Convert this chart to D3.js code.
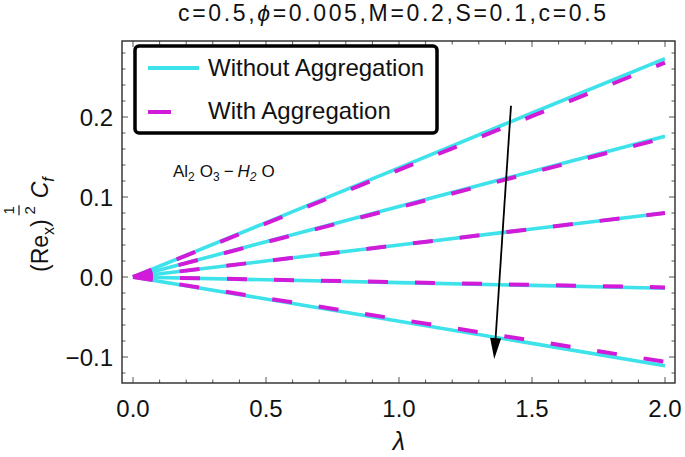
<!DOCTYPE html>
<html>
<head>
<meta charset="utf-8">
<script src="https://cdn.jsdelivr.net/npm/d3@7"></script>
<style>
  body { margin: 0; background: #fff; }
  svg text { font-family: "Liberation Sans", Arial, sans-serif; fill: #111; }
</style>
</head>
<body>
<svg id="CHART" width="685" height="457"></svg>
<script>
// lambda values and skin friction for the five curves (top to bottom)
var LAMBDA = [0, 0.5, 1.0, 1.5, 2.0];
var WITHOUT_AGG = [
  [0, 0.068, 0.1365, 0.205, 0.273],
  [0, 0.044, 0.088, 0.132, 0.176],
  [0, 0.020, 0.040, 0.060, 0.080],
  [0, -0.0035, -0.007, -0.0105, -0.014],
  [0, -0.0275, -0.0552, -0.083, -0.111]
];
var WITH_AGG = [
  [0, 0.067, 0.134, 0.201, 0.268],
  [0, 0.0435, 0.087, 0.1305, 0.174],
  [0, 0.020, 0.040, 0.060, 0.080],
  [0, -0.0033, -0.0065, -0.0098, -0.013],
  [0, -0.0265, -0.053, -0.0795, -0.106]
];
var X_TICKS = [0, 0.5, 1.0, 1.5, 2.0];
var Y_TICKS = [-0.1, 0, 0.1, 0.2];
var LEGEND_LABELS = ["Without Aggregation", "With Aggregation"];

var CYAN = "#3ee2ea";
var MAGENTA = "#d21ad9";

var chart = {
  draw: function () {
    var svg = d3.select("#CHART");
    var left = 122, right = 675, top = 41, bottom = 383;

    var x = d3.scaleLinear().domain([-0.0414, 2.0376]).range([left, right]);
    var y = d3.scaleLinear().domain([-0.1325, 0.295]).range([bottom, top]);

    // ticks on all four sides, pointing inward
    var xMinor = d3.range(0, 2.001, 0.1);
    var yMinor = d3.range(-0.12, 0.2801, 0.02);
    var ticks = svg.append("g").attr("stroke", "#555").attr("stroke-width", 1);
    var isMajor = function (v, list) {
      return list.some(function (t) { return Math.abs(t - v) < 1e-6; });
    };
    xMinor.forEach(function (v) {
      var len = isMajor(v, X_TICKS) ? 6 : 3.5;
      ticks.append("line").attr("x1", x(v)).attr("x2", x(v)).attr("y1", bottom).attr("y2", bottom - len);
      ticks.append("line").attr("x1", x(v)).attr("x2", x(v)).attr("y1", top).attr("y2", top + len);
    });
    yMinor.forEach(function (v) {
      var len = isMajor(v, Y_TICKS) ? 6 : 3.5;
      ticks.append("line").attr("y1", y(v)).attr("y2", y(v)).attr("x1", left).attr("x2", left + len);
      ticks.append("line").attr("y1", y(v)).attr("y2", y(v)).attr("x1", right).attr("x2", right - len);
    });

    svg.append("rect")
      .attr("x", left).attr("y", top)
      .attr("width", right - left).attr("height", bottom - top)
      .attr("fill", "none").attr("stroke", "#2a2a2a").attr("stroke-width", 1.4);

    // tick labels
    svg.append("g").selectAll("text").data(X_TICKS).join("text")
      .attr("x", function (d) { return x(d); })
      .attr("y", 417)
      .attr("text-anchor", "middle")
      .style("font-size", "24px")
      .text(function (d) { return d3.format(".1f")(d); });

    svg.append("g").selectAll("text").data(Y_TICKS).join("text")
      .attr("x", 113)
      .attr("y", function (d) { return y(d) + 8.5; })
      .attr("text-anchor", "end")
      .style("font-size", "24px")
      .text(function (d) { return d3.format(".1f")(d).replace("-", "\u2212"); });

    // curves
    var line = d3.line()
      .x(function (d, i) { return x(LAMBDA[i]); })
      .y(function (d) { return y(d); });

    var plot = svg.append("g");
    plot.selectAll("path.without").data(WITHOUT_AGG).join("path")
      .attr("class", "without")
      .attr("d", line)
      .attr("fill", "none")
      .attr("stroke", CYAN)
      .attr("stroke-width", 3.6);

    plot.selectAll("path.with").data(WITH_AGG).join("path")
      .attr("class", "with")
      .attr("d", line)
      .attr("fill", "none")
      .attr("stroke", MAGENTA)
      .attr("stroke-width", 4)
      .attr("stroke-dasharray", "20,27");

    // arrow showing increasing parameter
    var ax1 = x(1.421), ay1 = y(0.214), ax2 = x(1.358), ay2 = y(-0.1025);
    var ang = Math.atan2(ay2 - ay1, ax2 - ax1);
    var headLen = 21, headW = 5.5;
    var bx = ax2 - headLen * Math.cos(ang), by = ay2 - headLen * Math.sin(ang);
    svg.append("line")
      .attr("x1", ax1).attr("y1", ay1).attr("x2", bx).attr("y2", by)
      .attr("stroke", "#000").attr("stroke-width", 1.8);
    svg.append("path")
      .attr("d", "M" + ax2 + "," + ay2 +
        "L" + (bx + headW * Math.sin(ang)) + "," + (by - headW * Math.cos(ang)) +
        "L" + (bx - headW * Math.sin(ang)) + "," + (by + headW * Math.cos(ang)) + "Z")
      .attr("fill", "#000");

    // Al2O3 - H2O label
    var note = svg.append("text")
      .attr("x", x(0.15)).attr("y", y(0.125))
      .style("font-size", "17px");
    note.append("tspan").text("Al");
    note.append("tspan").attr("dy", 4).style("font-size", "12px").text("2");
    note.append("tspan").attr("dy", -4).attr("dx", 5).text("O");
    note.append("tspan").attr("dy", 4).style("font-size", "12px").text("3");
    note.append("tspan").attr("dy", -4).attr("dx", 4).text("\u2212");
    note.append("tspan").attr("dx", 4).style("font-style", "italic").text("H");
    note.append("tspan").attr("dy", 4).style("font-size", "12px").style("font-style", "italic").text("2");
    note.append("tspan").attr("dy", -4).attr("dx", 5).text("O");

    // legend
    var lg = svg.append("g");
    lg.append("rect")
      .attr("x", 135).attr("y", 46).attr("width", 302).attr("height", 87)
      .attr("rx", 4).attr("fill", "#fff")
      .attr("stroke", "#000").attr("stroke-width", 3.5);
    lg.append("line").attr("x1", 148).attr("x2", 199).attr("y1", 68).attr("y2", 68)
      .attr("stroke", CYAN).attr("stroke-width", 4);
    lg.append("line").attr("x1", 148).attr("x2", 171).attr("y1", 112).attr("y2", 112)
      .attr("stroke", MAGENTA).attr("stroke-width", 4);
    lg.selectAll("text").data(LEGEND_LABELS).join("text")
      .attr("x", 208)
      .attr("y", function (d, i) { return i === 0 ? 76 : 119; })
      .style("font-size", "24px")
      .text(function (d) { return d; });

    // title, phi in italics
    var title = svg.append("text")
      .attr("x", 178).attr("y", 21)
      .attr("textLength", 428).attr("lengthAdjust", "spacing")
      .style("font-size", "23px");
    title.append("tspan").text("c=0.5,");
    title.append("tspan").style("font-style", "italic").text("\u03D5");
    title.append("tspan").text("=0.005,M=0.2,S=0.1,c=0.5");

    // x axis label
    svg.append("text")
      .attr("x", x(1.0)).attr("y", 450)
      .attr("text-anchor", "middle")
      .style("font-size", "25px").style("font-style", "italic")
      .text("\u03BB");

    // y axis label: (Re_x)^(1/2) C_f, rotated
    var yl = svg.append("g").attr("transform", "translate(48,272) rotate(-90)");
    var t1 = yl.append("text").attr("x", 0).attr("y", 0).style("font-size", "23px");
    t1.append("tspan").text("(Re");
    t1.append("tspan").attr("dy", 6).style("font-size", "16px").text("x");
    t1.append("tspan").attr("dy", -6).text(")");
    var w1 = t1.node().getComputedTextLength();
    var fx = w1 + 9;
    yl.append("text").attr("x", fx).attr("y", -34).attr("text-anchor", "middle")
      .style("font-size", "15px").text("1");
    yl.append("line").attr("x1", fx - 5).attr("x2", fx + 5).attr("y1", -29).attr("y2", -29)
      .attr("stroke", "#111").attr("stroke-width", 1.2);
    yl.append("text").attr("x", fx).attr("y", -13).attr("text-anchor", "middle")
      .style("font-size", "15px").text("2");
    var t2 = yl.append("text").attr("x", fx + 12).attr("y", 0)
      .style("font-size", "23px").style("font-style", "italic");
    t2.append("tspan").text("C");
    t2.append("tspan").attr("dy", 6).style("font-size", "16px").text("f");
  }
};

chart.draw();
</script>
</body>
</html>
